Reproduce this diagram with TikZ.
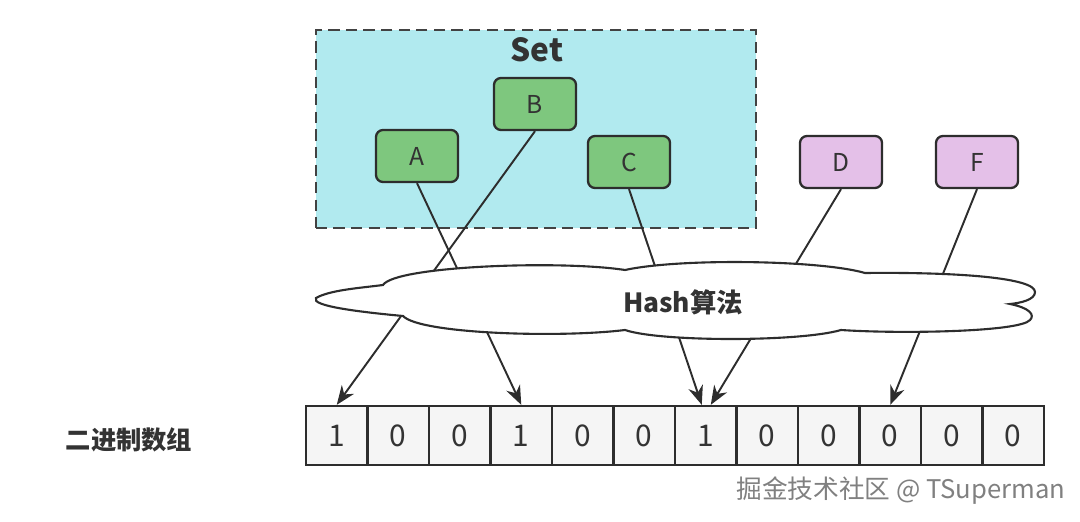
\documentclass[tikz,border=0pt]{standalone}
\usepackage{fontspec}
\setmainfont{Noto Sans CJK SC}
\usepackage{tikz}
\usetikzlibrary{arrows.meta}
\definecolor{setcyan}{RGB}{177,234,239}
\definecolor{itemgreen}{RGB}{126,199,126}
\definecolor{otherpink}{RGB}{228,192,232}
\definecolor{cellgray}{RGB}{245,245,245}
\definecolor{edgedark}{RGB}{45,45,45}
\tikzset{
  setframe/.style={draw=edgedark!90,fill=setcyan,line width=0.75pt,dash pattern=on 3.2pt off 1.8pt,minimum width=44mm,minimum height=19.8mm,inner sep=0pt},
  itembox/.style={draw=edgedark,fill=itemgreen,rounded corners=2pt,line width=0.65pt,minimum width=8.2mm,minimum height=5.2mm,inner sep=0pt,font=\fontsize{7}{8}\selectfont,text=black!80},
  otherbox/.style={itembox,fill=otherpink},
  bitcell/.style={draw=edgedark,fill=cellgray,line width=0.65pt,minimum width=6.15mm,minimum height=5.9mm,inner sep=0pt,font=\fontsize{8.5}{9}\selectfont,text=black!80},
  hashline/.style={-{Stealth[length=1.9mm,width=1.5mm]},line width=0.55pt,draw=edgedark},
  cloudline/.style={draw=edgedark,fill=white,line width=0.6pt},
}

\begin{document}
\begin{tikzpicture}[x=0.01cm,y=-0.01cm]
  \useasboundingbox (0,0) rectangle (1080,522);
  % set with its members
  \node[setframe] (set) at (536,129) {};
  \node[font=\bfseries\fontsize{9}{10}\selectfont,text=black!80] (setlabel) at (537,50) {Set};
  \node[itembox] (a) at (417,156) {A};
  \node[itembox] (b) at (535,104) {B};
  \node[itembox] (c) at (629,162) {C};
  % other elements
  \node[otherbox] (d) at (841,162) {D};
  \node[otherbox] (f) at (977,162) {F};
  % bit array
  \foreach \b [count=\i] in {1,0,0,1,0,0,1,0,0,0,0,0}
    \node[bitcell] (c\i) at ({306+61.5*(\i-0.5)},435.5) {\b};
  \node[font=\bfseries\fontsize{7.2}{8}\selectfont,text=black!80] (arrlabel) at (129,440) {二进制数组};
  % mapping
  \draw[hashline] (a.south) -- (c4.north);
  \draw[hashline] (b.south) -- (c1.north);
  \draw[hashline] (c.south) -- ([xshift=-0.4mm]c7.north);
  \draw[hashline] (d.south) -- ([xshift=0.5mm]c7.north);
  \draw[hashline] (f.south) -- (c10.north);
  % hash cloud
  \draw[cloudline] (316,298)
    .. controls (330,290) and (360,288) .. (383,285)
    .. controls (395,266) and (560,260) .. (625,270)
    .. controls (680,258) and (820,260) .. (865,273)
    .. controls (960,272) and (1035,278) .. (1035,292)
    .. controls (1035,300) and (1020,303) .. (1010,304)
    .. controls (1030,308) and (1035,315) .. (1030,320)
    .. controls (1020,332) and (900,334) .. (841,330)
    .. controls (800,342) and (660,342) .. (625,330)
    .. controls (560,338) and (420,334) .. (403,316)
    .. controls (360,312) and (310,306) .. (316,298) -- cycle;
  \node[font=\bfseries\fontsize{7.5}{8}\selectfont,text=black!80] (hash) at (683,302) {Hash算法};
  % watermark
  \node[font=\fontsize{7.3}{8}\selectfont,text=black!50] (mark) at (901,491) {掘金技术社区 @ TSuperman};
\end{tikzpicture}
\end{document}
